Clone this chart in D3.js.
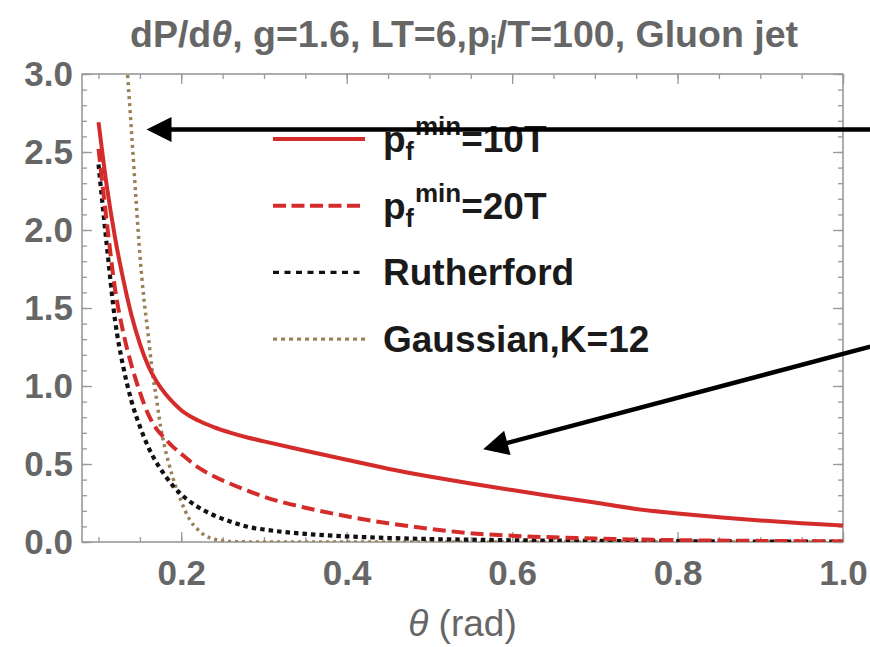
<!DOCTYPE html>
<html>
<head>
<meta charset="utf-8">
<script src="https://cdnjs.cloudflare.com/ajax/libs/d3/7.8.5/d3.min.js"></script>
<style>
  body { margin: 0; background: #fff; }
  svg { display: block; font-family: "Liberation Sans", Arial, sans-serif; }
</style>
</head>
<body>
<div id="chart"></div>
<script>
//------------------------------DATA------------------------------//
// theta grid (rad) shared by the three pf / Rutherford curves
const thetaGrid = [0.10, 0.11, 0.12, 0.13, 0.14, 0.15, 0.16, 0.17, 0.18, 0.19,
                   0.20, 0.22, 0.24, 0.26, 0.28, 0.30, 0.35, 0.40, 0.45, 0.50,
                   0.55, 0.60, 0.65, 0.70, 0.75, 0.80, 0.85, 0.90, 0.95, 1.00];
const pf10T = [2.69, 2.28, 1.95, 1.68, 1.45, 1.27, 1.13, 1.03, 0.955, 0.895,
               0.845, 0.78, 0.735, 0.70, 0.67, 0.645, 0.585, 0.527, 0.47, 0.42,
               0.375, 0.333, 0.292, 0.253, 0.212, 0.183, 0.158, 0.138, 0.12, 0.105];
const pf20T = [2.52, 2.05, 1.62, 1.34, 1.13, 0.96, 0.82, 0.725, 0.665, 0.61,
               0.565, 0.48, 0.42, 0.372, 0.33, 0.29, 0.22, 0.165, 0.12, 0.085,
               0.056, 0.04, 0.03, 0.022, 0.016, 0.012, 0.009, 0.007, 0.005, 0.004];
const rutherford = [2.42, 1.90, 1.42, 1.12, 0.90, 0.74, 0.61, 0.51, 0.43, 0.36,
                    0.305, 0.225, 0.17, 0.13, 0.098, 0.08, 0.052, 0.036, 0.026, 0.019,
                    0.015, 0.011, 0.009, 0.007, 0.006, 0.005, 0.004, 0.003, 0.003, 0.002];
// gaussian has its own grid (it leaves the top of the frame)
const gaussTheta = [0.13, 0.135, 0.14, 0.145, 0.15, 0.155, 0.16, 0.165, 0.17, 0.175,
                    0.18, 0.19, 0.20, 0.21, 0.22, 0.23, 0.24, 0.25, 0.26, 0.30,
                    0.40, 0.60, 0.80, 1.00];
const gauss = [3.35, 3.0, 2.62, 2.22, 1.84, 1.55, 1.33, 1.09, 0.92, 0.74,
               0.61, 0.41, 0.26, 0.145, 0.08, 0.038, 0.018, 0.008, 0.003, 0,
               0, 0, 0, 0];

const xTicks = [0.2, 0.4, 0.6, 0.8, 1.0];
const yTicks = [0.0, 0.5, 1.0, 1.5, 2.0, 2.5, 3.0];

// arrows drawn over the plot (data units: from -> tip)
const arrows = [
  { from: [1.033, 2.645], to: [0.158, 2.645] },
  { from: [1.033, 1.252], to: [0.565, 0.594] }
];

//------------------------------SVG-------------------------------//
const width = 870;
const height = 647;
const mLeft = 82, mRight = 843, mTop = 74, mBottom = 542;
const red = "#d42b2b";
const tan = "#9a8058";

const svg = d3.select("#chart").append("svg")
    .attr("width", width)
    .attr("height", height);

svg.append("rect").attr("width", width).attr("height", height).attr("fill", "#fff");

const xScale = d3.scaleLinear().domain([0.08, 1.0]).range([mLeft, mRight]);
const yScale = d3.scaleLinear().domain([0, 3]).range([mBottom, mTop]);

svg.append("clipPath").attr("id", "plot")
  .append("rect")
    .attr("x", mLeft).attr("y", mTop)
    .attr("width", mRight - mLeft).attr("height", mBottom - mTop);

//-----------------------------AXES-------------------------------//
const tickColor = "#999";
const labelColor = "#666";
const xMinor = xScale.ticks(20);
const yMinor = yScale.ticks(30);

function styleAxis(g) {
  g.select(".domain").remove();
  g.selectAll(".tick line").attr("stroke", tickColor).attr("stroke-width", 1.3);
}

// minor ticks, all four sides
svg.append("g").attr("transform", "translate(0," + mBottom + ")")
  .call(d3.axisBottom(xScale).tickValues(xMinor).tickSize(-5).tickFormat(""))
  .call(styleAxis);
svg.append("g").attr("transform", "translate(0," + mTop + ")")
  .call(d3.axisTop(xScale).tickValues(xMinor).tickSize(-5).tickFormat(""))
  .call(styleAxis);
svg.append("g").attr("transform", "translate(" + mLeft + ",0)")
  .call(d3.axisLeft(yScale).tickValues(yMinor).tickSize(-5).tickFormat(""))
  .call(styleAxis);
svg.append("g").attr("transform", "translate(" + mRight + ",0)")
  .call(d3.axisRight(yScale).tickValues(yMinor).tickSize(-5).tickFormat(""))
  .call(styleAxis);

// major ticks with labels
const xaxis = svg.append("g").attr("transform", "translate(0," + mBottom + ")")
  .call(d3.axisBottom(xScale).tickValues(xTicks).tickSize(-10).tickPadding(18)
        .tickFormat(d3.format(".1f")))
  .call(styleAxis);
svg.append("g").attr("transform", "translate(0," + mTop + ")")
  .call(d3.axisTop(xScale).tickValues(xTicks).tickSize(-10).tickFormat(""))
  .call(styleAxis);
const yaxis = svg.append("g").attr("transform", "translate(" + mLeft + ",0)")
  .call(d3.axisLeft(yScale).tickValues(yTicks).tickSize(-10).tickPadding(9)
        .tickFormat(d3.format(".1f")))
  .call(styleAxis);
svg.append("g").attr("transform", "translate(" + mRight + ",0)")
  .call(d3.axisRight(yScale).tickValues(yTicks).tickSize(-10).tickFormat(""))
  .call(styleAxis);

[xaxis, yaxis].forEach(function(g) {
  g.selectAll("text")
    .attr("fill", labelColor)
    .style("font-size", "35px")
    .style("font-weight", "bold")
    .style("font-family", "'Liberation Sans', Arial, sans-serif");
});

// frame
svg.append("rect")
    .attr("x", mLeft).attr("y", mTop)
    .attr("width", mRight - mLeft).attr("height", mBottom - mTop)
    .attr("fill", "none").attr("stroke", tickColor).attr("stroke-width", 1.6);

//-----------------------------LINES------------------------------//
const line = d3.line()
    .x(function(d) { return xScale(d[0]); })
    .y(function(d) { return yScale(d[1]); })
    .curve(d3.curveMonotoneX);

const series = [
  { xs: gaussTheta, ys: gauss, color: tan, width: 3.5, dash: "3,4" },
  { xs: thetaGrid, ys: rutherford, color: "#111", width: 4.2, dash: "4.5,4" },
  { xs: thetaGrid, ys: pf20T, color: red, width: 4, dash: "13,6" },
  { xs: thetaGrid, ys: pf10T, color: red, width: 4, dash: null }
];

const curves = svg.append("g").attr("clip-path", "url(#plot)");
series.forEach(function(s) {
  curves.append("path")
    .datum(d3.zip(s.xs, s.ys))
    .attr("fill", "none")
    .attr("stroke", s.color)
    .attr("stroke-width", s.width)
    .attr("stroke-dasharray", s.dash)
    .attr("d", line);
});

//-----------------------------LEGEND-----------------------------//
const legendRows = [
  { color: red, width: 4, dash: null, label: ["p", "f", "min", "=10T"] },
  { color: red, width: 4, dash: "13,5.5", label: ["p", "f", "min", "=20T"] },
  { color: "#111", width: 3.2, dash: "6,5.5", label: ["Rutherford"] },
  { color: tan, width: 3.2, dash: "4,4", label: ["Gaussian,K=12"] }
];
const legend = svg.append("g");
legendRows.forEach(function(r, i) {
  const yy = 139 + i * 66.7;
  legend.append("line")
    .attr("x1", 273).attr("x2", 365).attr("y1", yy).attr("y2", yy)
    .attr("stroke", r.color).attr("stroke-width", r.width)
    .attr("stroke-dasharray", r.dash);
  const t = legend.append("text")
    .attr("x", 383).attr("y", yy + 13)
    .attr("fill", "#1a1a1a")
    .style("font-size", "37px").style("font-weight", "bold");
  if (r.label.length === 1) {
    t.text(r.label[0]);
  } else {
    t.append("tspan").text(r.label[0]);
    t.append("tspan").attr("dy", 8).style("font-size", "25px").text(r.label[1]);
    t.append("tspan").attr("dx", 1).attr("dy", -25).style("font-size", "26px").text(r.label[2]);
    t.append("tspan").attr("dy", 17).text(r.label[3]);
  }
});

//-----------------------------ARROWS-----------------------------//
const arrowLayer = svg.append("g");
arrows.forEach(function(a) {
  const x0 = xScale(a.from[0]), y0 = yScale(a.from[1]);
  const x1 = xScale(a.to[0]), y1 = yScale(a.to[1]);
  const ang = Math.atan2(y1 - y0, x1 - x0);
  const len = 25, half = 12.5;
  const bx = x1 - len * Math.cos(ang), by = y1 - len * Math.sin(ang);
  arrowLayer.append("line")
    .attr("x1", x0).attr("y1", y0)
    .attr("x2", bx + 3 * Math.cos(ang)).attr("y2", by + 3 * Math.sin(ang))
    .attr("stroke", "#000").attr("stroke-width", 4.5);
  arrowLayer.append("path")
    .attr("d", "M" + x1 + "," + y1 +
               "L" + (bx - half * Math.sin(ang)) + "," + (by + half * Math.cos(ang)) +
               "L" + (bx + half * Math.sin(ang)) + "," + (by - half * Math.cos(ang)) + "Z")
    .attr("fill", "#000");
});

//-----------------------------TEXTS------------------------------//
const title = svg.append("text")
    .attr("x", 464).attr("y", 47)
    .attr("text-anchor", "middle")
    .attr("fill", labelColor)
    .style("font-size", "37.5px").style("font-weight", "bold");
title.append("tspan").text("dP/d");
title.append("tspan").style("font-style", "italic").text("θ");
title.append("tspan").text(", g=1.6, LT=6,p");
title.append("tspan").attr("dy", 7).style("font-size", "25px").text("i");
title.append("tspan").attr("dy", -7).text("/T=100, Gluon jet");

const xlabel = svg.append("text")
    .attr("x", (mLeft + mRight) / 2).attr("y", 636)
    .attr("text-anchor", "middle")
    .attr("fill", labelColor)
    .style("font-size", "37px");
xlabel.append("tspan").style("font-style", "italic").text("θ");
xlabel.append("tspan").text(" (rad)");
</script>
</body>
</html>
